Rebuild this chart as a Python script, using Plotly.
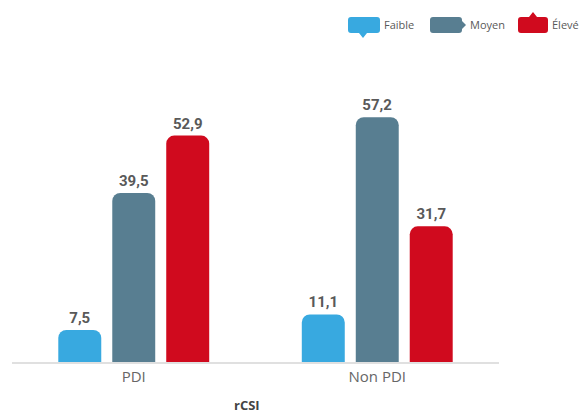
import plotly.graph_objects as go

categories = ['PDI', 'Non PDI']
faible = [7.5, 11.1]
moyen = [39.5, 57.2]
eleve = [52.9, 31.7]

series = [('Faible', faible, '#38a9e0'),
          ('Moyen', moyen, '#587e91'),
          ('Élevé', eleve, '#d00a1e')]

W, H = 583, 416
L, R, T, B = 12, 84, 60, 54
pw = W - L - R
ph = H - T - B


def px(x):
    return (x - L) / pw


def py(y):
    return (H - B - y) / ph


def bubble(x0, y0, x1, y1, tip):
    # rounded rectangle with a small pointer, pixels -> paper
    r = 3
    if tip == 'down':
        cx = (x0 + x1) / 2 - 1
        d = (f"M{px(x0 + r)},{py(y0)} L{px(x1 - r)},{py(y0)} Q{px(x1)},{py(y0)} {px(x1)},{py(y0 + r)} "
             f"L{px(x1)},{py(y1 - r)} Q{px(x1)},{py(y1)} {px(x1 - r)},{py(y1)} "
             f"L{px(cx + 4)},{py(y1)} L{px(cx)},{py(y1 + 5)} L{px(cx - 4)},{py(y1)} "
             f"L{px(x0 + r)},{py(y1)} Q{px(x0)},{py(y1)} {px(x0)},{py(y1 - r)} "
             f"L{px(x0)},{py(y0 + r)} Q{px(x0)},{py(y0)} {px(x0 + r)},{py(y0)} Z")
    elif tip == 'right':
        cy = (y0 + y1) / 2
        d = (f"M{px(x0 + r)},{py(y0)} L{px(x1 - r)},{py(y0)} Q{px(x1)},{py(y0)} {px(x1)},{py(y0 + r)} "
             f"L{px(x1)},{py(cy - 4)} L{px(x1 + 4)},{py(cy)} L{px(x1)},{py(cy + 4)} "
             f"L{px(x1)},{py(y1 - r)} Q{px(x1)},{py(y1)} {px(x1 - r)},{py(y1)} "
             f"L{px(x0 + r)},{py(y1)} Q{px(x0)},{py(y1)} {px(x0)},{py(y1 - r)} "
             f"L{px(x0)},{py(y0 + r)} Q{px(x0)},{py(y0)} {px(x0 + r)},{py(y0)} Z")
    else:
        cx = (x0 + x1) / 2
        d = (f"M{px(x0 + r)},{py(y0)} L{px(cx - 4)},{py(y0)} L{px(cx)},{py(y0 - 5)} L{px(cx + 4)},{py(y0)} "
             f"L{px(x1 - r)},{py(y0)} Q{px(x1)},{py(y0)} {px(x1)},{py(y0 + r)} "
             f"L{px(x1)},{py(y1 - r)} Q{px(x1)},{py(y1)} {px(x1 - r)},{py(y1)} "
             f"L{px(x0 + r)},{py(y1)} Q{px(x0)},{py(y1)} {px(x0)},{py(y1 - r)} "
             f"L{px(x0)},{py(y0 + r)} Q{px(x0)},{py(y0)} {px(x0 + r)},{py(y0)} Z")
    return d


fig = go.Figure()
for name, vals, col in series:
    fig.add_trace(go.Bar(
        x=categories, y=vals, name=name,
        marker=dict(color=col, cornerradius=8, line_width=0),
        texttemplate='%{y:.1f}', textposition='outside', cliponaxis=False,
        textfont=dict(family='Roboto', size=15, color='#595959', weight='bold'),
    ))

legend_items = [(348, 380, 'down', 382), (430, 462, 'right', 468), (518, 548, 'up', 550)]
for (x0, x1, tip, tx), (name, vals, col) in zip(legend_items, series):
    fig.add_shape(type='path', xref='paper', yref='paper', path=bubble(x0, 17, x1, 33, tip),
                  fillcolor=col, line_width=0)
    fig.add_annotation(x=px(tx), y=py(24), xref='paper', yref='paper', text=name,
                       showarrow=False, xanchor='left', yanchor='middle',
                       font=dict(family='Open Sans', size=11, color='#595959'))

fig.add_annotation(x=px(247), y=py(405), xref='paper', yref='paper', text='<b>rCSI</b>',
                   showarrow=False, xanchor='center', yanchor='middle',
                   font=dict(family='Open Sans', size=13, color='#444444'))

fig.update_layout(
    width=W, height=H, margin=dict(l=L, r=R, t=T, b=B),
    barmode='group', bargap=0.335, bargroupgap=0.204,
    separators=', ', showlegend=False,
    plot_bgcolor='white', paper_bgcolor='white',
    xaxis=dict(showgrid=False, showline=True, linecolor='#e0e0e0', linewidth=1.5,
               ticks='', tickfont=dict(family='Open Sans', size=15, color='#666666')),
    yaxis=dict(range=[0, ph / 4.28], visible=False, showgrid=False, zeroline=False),
)

# drop the default 8px page margin so the figure sits at the window corner
fig.write_html('out.html', config={'displayModeBar': False},
               post_script="document.body.style.margin='0';")
